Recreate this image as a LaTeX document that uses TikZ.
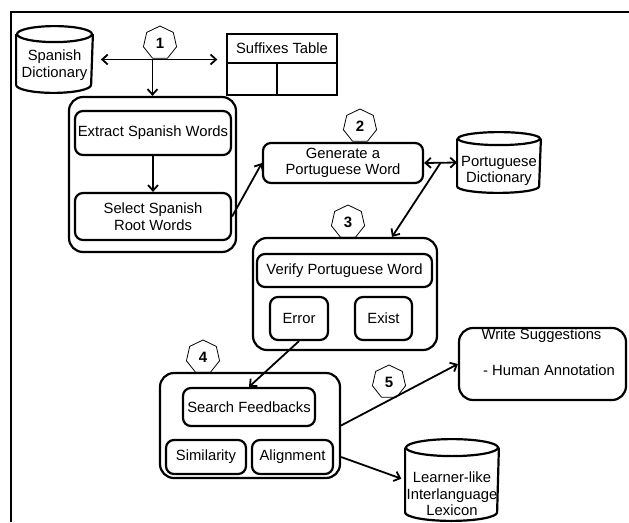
\documentclass[tikz,border=0pt]{standalone}
\usepackage{fontspec}
\setmainfont{Liberation Sans}
\usetikzlibrary{shapes.geometric, arrows.meta}

% cylinder outline round a named node: node, x radius, y radius
\newcommand{\drawstore}[3]{%
  \draw [line width=2.2pt] ([yshift=-#3pt]#1.north) ellipse [x radius=#2pt, y radius=#3pt];
  \draw [line width=2.2pt] ([yshift=-#3pt]#1.north west) -- ([yshift=#3pt]#1.south west)
    arc [start angle=180, end angle=360, x radius=#2pt, y radius=#3pt] -- ([yshift=-#3pt]#1.north east);
}

\begin{document}
\begin{tikzpicture}[x=1pt, y=-1pt, line width=1.8pt,
    every node/.style={font=\fontsize{14.8}{16.5}\selectfont, align=center, inner sep=0pt},
    outer/.style={draw, rounded corners=14pt, line width=2.2pt},
    inner/.style={draw, rounded corners=8pt, line width=2.2pt},
    badge/.style={draw, regular polygon, regular polygon sides=7, minimum size=34pt, line width=0.8pt, font=\fontsize{15}{16}\selectfont\bfseries},
    >={Straight Barb[length=5.5pt, width=10pt]}]
    \useasboundingbox (0, 0) rectangle (629, 522);
    \draw [line width=2pt] (11, 522) -- (11, 12) -- (629, 12);

    % step 1
    \node [minimum width=75pt, minimum height=65pt] (spdict) at (54.5, 59.5) {};
    \drawstore{spdict}{37.5}{8}
    \node (spdicttext) at (54.5, 65) {Spanish\\Dictionary};
    \node [badge] (b1) at (160, 43) {1};
    \node [draw, line width=1.3pt, minimum width=110pt, minimum height=61pt] (suffix) at (282, 64.5) {};
    \node (suffixhead) at (282, 48) {Suffixes Table};
    \draw [line width=1.3pt] (suffix.west |- 0, 63) -- (suffix.east |- 0, 63);
    \draw [line width=1.3pt] (277, 63) -- (suffix.south -| 277, 0);

    \node [outer, minimum width=167pt, minimum height=155pt] (box1) at (152.5, 174.5) {};
    \node [inner, minimum width=156pt, minimum height=44pt] (extract) at (153, 133) {Extract Spanish Words};
    \node [inner, minimum width=156pt, minimum height=47pt] (select) at (153, 216.5) {Select Spanish\\Root Words};

    % step 2
    \node [badge] (b2) at (360, 126) {2};
    \node [inner, minimum width=160pt, minimum height=40pt] (generate) at (343, 163) {Generate a\\Portuguese Word};
    \node [minimum width=82pt, minimum height=59pt] (ptdict) at (499, 162.5) {};
    \drawstore{ptdict}{41}{6.5}
    \node (ptdicttext) at (499, 171) {Portuguese\\Dictionary};

    % step 3
    \node [badge] (b3) at (348, 222) {3};
    \node [outer, minimum width=184pt, minimum height=112pt] (box3) at (345, 294) {};
    \node [inner, minimum width=175pt, minimum height=33pt] (verify) at (344.5, 270.5) {Verify Portuguese Word};
    \node [inner, minimum width=58pt, minimum height=43pt] (error) at (299, 318.5) {Error};
    \node [inner, minimum width=57pt, minimum height=43pt] (exist) at (383.5, 318.5) {Exist};

    % step 4
    \node [badge] (b4) at (203, 357) {4};
    \node [outer, minimum width=180pt, minimum height=105pt] (box4) at (250, 425.5) {};
    \node [inner, minimum width=132pt, minimum height=38pt] (search) at (249, 407) {Search Feedbacks};
    \node [inner, minimum width=80pt, minimum height=34pt] (similarity) at (206, 457) {Similarity};
    \node [inner, minimum width=81pt, minimum height=34pt] (alignment) at (292.5, 457) {Alignment};

    % step 5
    \node [badge] (b5) at (389, 382) {5};
    \node [outer, minimum width=167pt, minimum height=72pt] (write) at (542.5, 364) {};
    \node (writetitle) at (541.5, 336) {Write Suggestions};
    \node (writenote) at (549, 370) {- Human Annotation};
    \node [minimum width=92pt, minimum height=80pt] (lexicon) at (452, 480) {};
    \drawstore{lexicon}{46}{8.5}
    \node (lexicontext) at (452, 494) {Learner-like\\Interlanguage\\Lexicon};

    \draw [<->, shorten <=8pt, shorten >=9pt] (spdict.east) -- (spdict.east -| suffix.west);
    \draw [->] (spdict.east -| box1.north) -- (box1.north);
    \draw [->] (extract) -- (select);
    \draw [->] (select.east) -- (generate.west);
    \draw [<->] (generate.east) -- (ptdict.west) coordinate [pos=0.5] (pvmid);
    \draw [->] (pvmid) -- ([xshift=47pt]box3.north);
    \draw [->] (error.south) -- (search.north);
    \draw [->] (box4.east) -- (write.west);
    \draw [->, shorten >=4pt] (box4.east |- alignment.east) -- (lexicon.west);
  \end{tikzpicture}
\end{document}
